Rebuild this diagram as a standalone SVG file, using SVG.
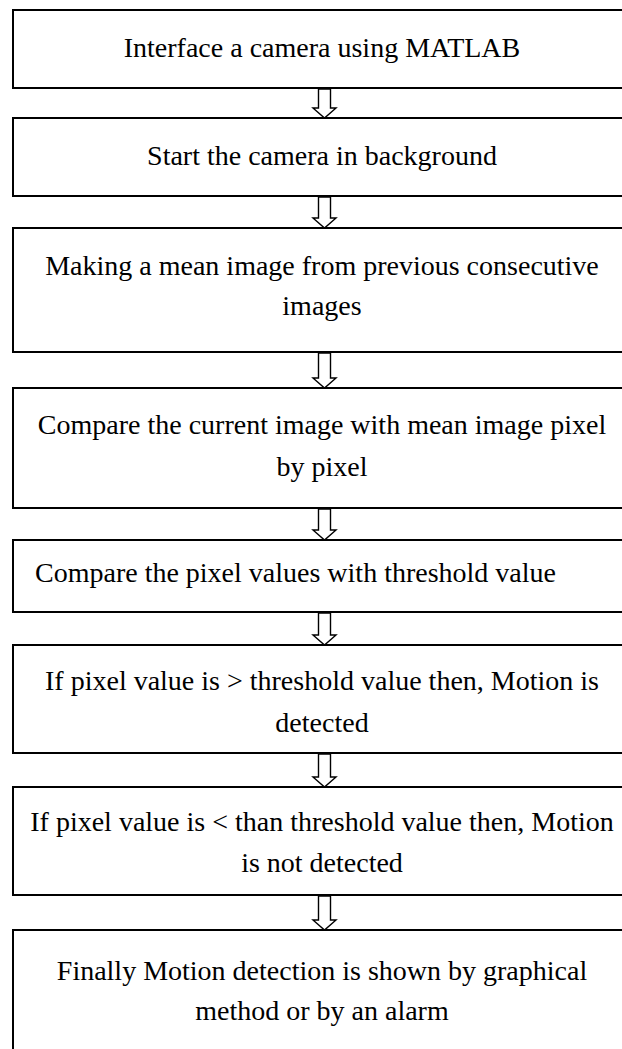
<svg xmlns="http://www.w3.org/2000/svg" width="622" height="1049" viewBox="0 0 622 1049">
<style>
.box{fill:#fff;stroke:#000;stroke-width:2}
.t{font-family:"Liberation Serif","Times New Roman",serif;font-size:28px;fill:#000;text-anchor:middle}
.arr{fill:#fff;stroke:#000;stroke-width:1.4;stroke-linejoin:miter}
</style>
<rect width="622" height="1049" fill="#fff"/>
<g id="n1"><rect class="box" x="13" y="10" width="640" height="78"/><text class="t" x="322" y="57">Interface a camera using MATLAB</text></g>
<g id="n2"><rect class="box" x="13" y="118" width="640" height="78"/><text class="t" x="322" y="165">Start the camera in background</text></g>
<g id="n3"><rect class="box" x="13" y="228" width="640" height="124"/><text class="t" x="322" y="275">Making a mean image from previous consecutive</text><text class="t" x="322" y="315">images</text></g>
<g id="n4"><rect class="box" x="13" y="388" width="640" height="120"/><text class="t" x="322" y="434">Compare the current image with mean image pixel</text><text class="t" x="322" y="476">by pixel</text></g>
<g id="n5"><rect class="box" x="13" y="540" width="640" height="72"/><text class="t" x="35" y="582" style="text-anchor:start">Compare the pixel values with threshold value</text></g>
<g id="n6"><rect class="box" x="13" y="645" width="640" height="108"/><text class="t" x="322" y="690">If pixel value is &gt; threshold value then, Motion is</text><text class="t" x="322" y="732">detected</text></g>
<g id="n7"><rect class="box" x="13" y="787" width="640" height="108"/><text class="t" x="322" y="831">If pixel value is &lt; than threshold value then, Motion</text><text class="t" x="322" y="872">is not detected</text></g>
<g id="n8"><rect class="box" x="13" y="930" width="640" height="140"/><text class="t" x="322" y="980">Finally Motion detection is shown by graphical</text><text class="t" x="322" y="1020">method or by an alarm</text></g>
<g id="connectors">
<path class="arr" d="M318.5 89 H330.5 V108 H336 L324.5 118 L313 108 H318.5 Z"/>
<path class="arr" d="M318.5 197 H330.5 V218 H336 L324.5 228 L313 218 H318.5 Z"/>
<path class="arr" d="M318.5 353 H330.5 V378 H336 L324.5 388 L313 378 H318.5 Z"/>
<path class="arr" d="M318.5 509 H330.5 V530 H336 L324.5 540 L313 530 H318.5 Z"/>
<path class="arr" d="M318.5 613 H330.5 V635 H336 L324.5 645 L313 635 H318.5 Z"/>
<path class="arr" d="M318.5 754 H330.5 V777 H336 L324.5 787 L313 777 H318.5 Z"/>
<path class="arr" d="M318.5 896 H330.5 V920 H336 L324.5 930 L313 920 H318.5 Z"/>
</g>
</svg>
